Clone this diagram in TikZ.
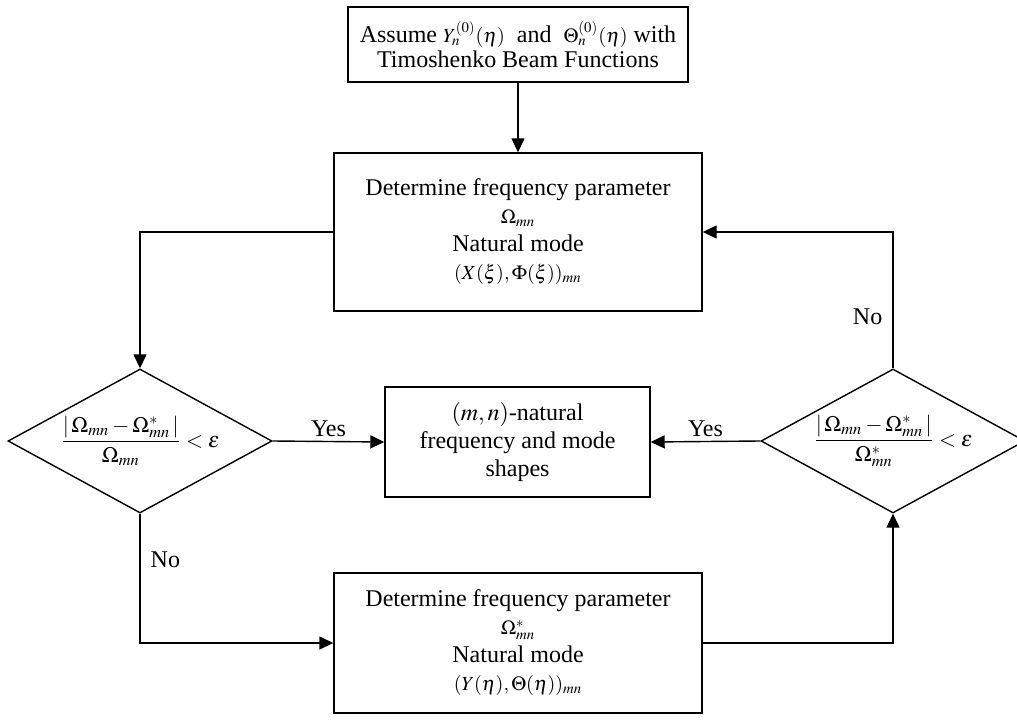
\documentclass[tikz,border=0pt]{standalone}
\usepackage{mathptmx}
\usepackage{fontspec}
\setmainfont{Liberation Serif}
\usetikzlibrary{shapes.geometric,arrows.meta}
\newcommand{\eqsmall}[1]{{\fontsize{10}{12}\selectfont$#1$}}

\begin{document}
\begin{tikzpicture}[x=0.5pt, y=-0.5pt,
  box/.style={rectangle, draw, line width=0.7pt, align=center, inner sep=0pt, font=\fontsize{12}{14}\selectfont},
  decision/.style={diamond, draw, line width=0.7pt, aspect=1.83, inner sep=0pt, minimum width=132pt, minimum height=72pt, font=\fontsize{11}{13}\selectfont},
  flow/.style={line width=0.7pt, -{Triangle[length=7pt, width=6.5pt]}},
  lbl/.style={inner sep=2pt, font=\fontsize{12}{14}\selectfont}]
  \useasboundingbox (0,0) rectangle (1017,722);
  \node[box, minimum width=170pt, minimum height=37.5pt, font=\fontsize{12}{12.5}\selectfont] (assume) at (518,44.5) {Assume \eqsmall{Y_n^{(0)}(\eta)}\ \ and\ \ \eqsmall{\Theta_n^{(0)}(\eta)} with\\Timoshenko Beam Functions};
  \node[box, minimum width=184pt, minimum height=79pt] (detA) at (518,232) {Determine frequency parameter\\\eqsmall{\Omega_{mn}}\\Natural mode\\\eqsmall{(X(\xi),\Phi(\xi))_{mn}}};
  \node[box, minimum width=132.5pt, minimum height=55pt] (result) at (517.5,442) {$(m,n)$-natural\\frequency and mode\\shapes};
  \node[box, minimum width=184pt, minimum height=70pt] (detB) at (518,643) {Determine frequency parameter\\\eqsmall{\Omega^*_{mn}}\\Natural mode\\\eqsmall{(Y(\eta),\Theta(\eta))_{mn}}};
  \node[decision] (testA) at (140,441) {$\displaystyle\frac{|\,\Omega_{mn}-\Omega^*_{mn}\,|}{\Omega_{mn}}<\varepsilon$};
  \node[decision] (testB) at (893,441) {$\displaystyle\frac{|\,\Omega_{mn}-\Omega^*_{mn}\,|}{\Omega^*_{mn}}<\varepsilon$};
  \draw[flow] (assume) -- (detA);
  \draw[flow] (detA.west) -| (testA.north);
  \draw[flow] (testA.east) -- node[lbl, above] {Yes} (result.west);
  \draw[flow] (testA.south) |- node[lbl, pos=0.18, right=3pt] {No} (detB.west);
  \draw[flow] (detB.east) -| (testB.south);
  \draw[flow] (testB.west) -- node[lbl, above] {Yes} (result.east);
  \draw[flow] (testB.north) |- node[lbl, pos=0.19, left=3pt] {No} (detA.east);
\end{tikzpicture}
\end{document}
